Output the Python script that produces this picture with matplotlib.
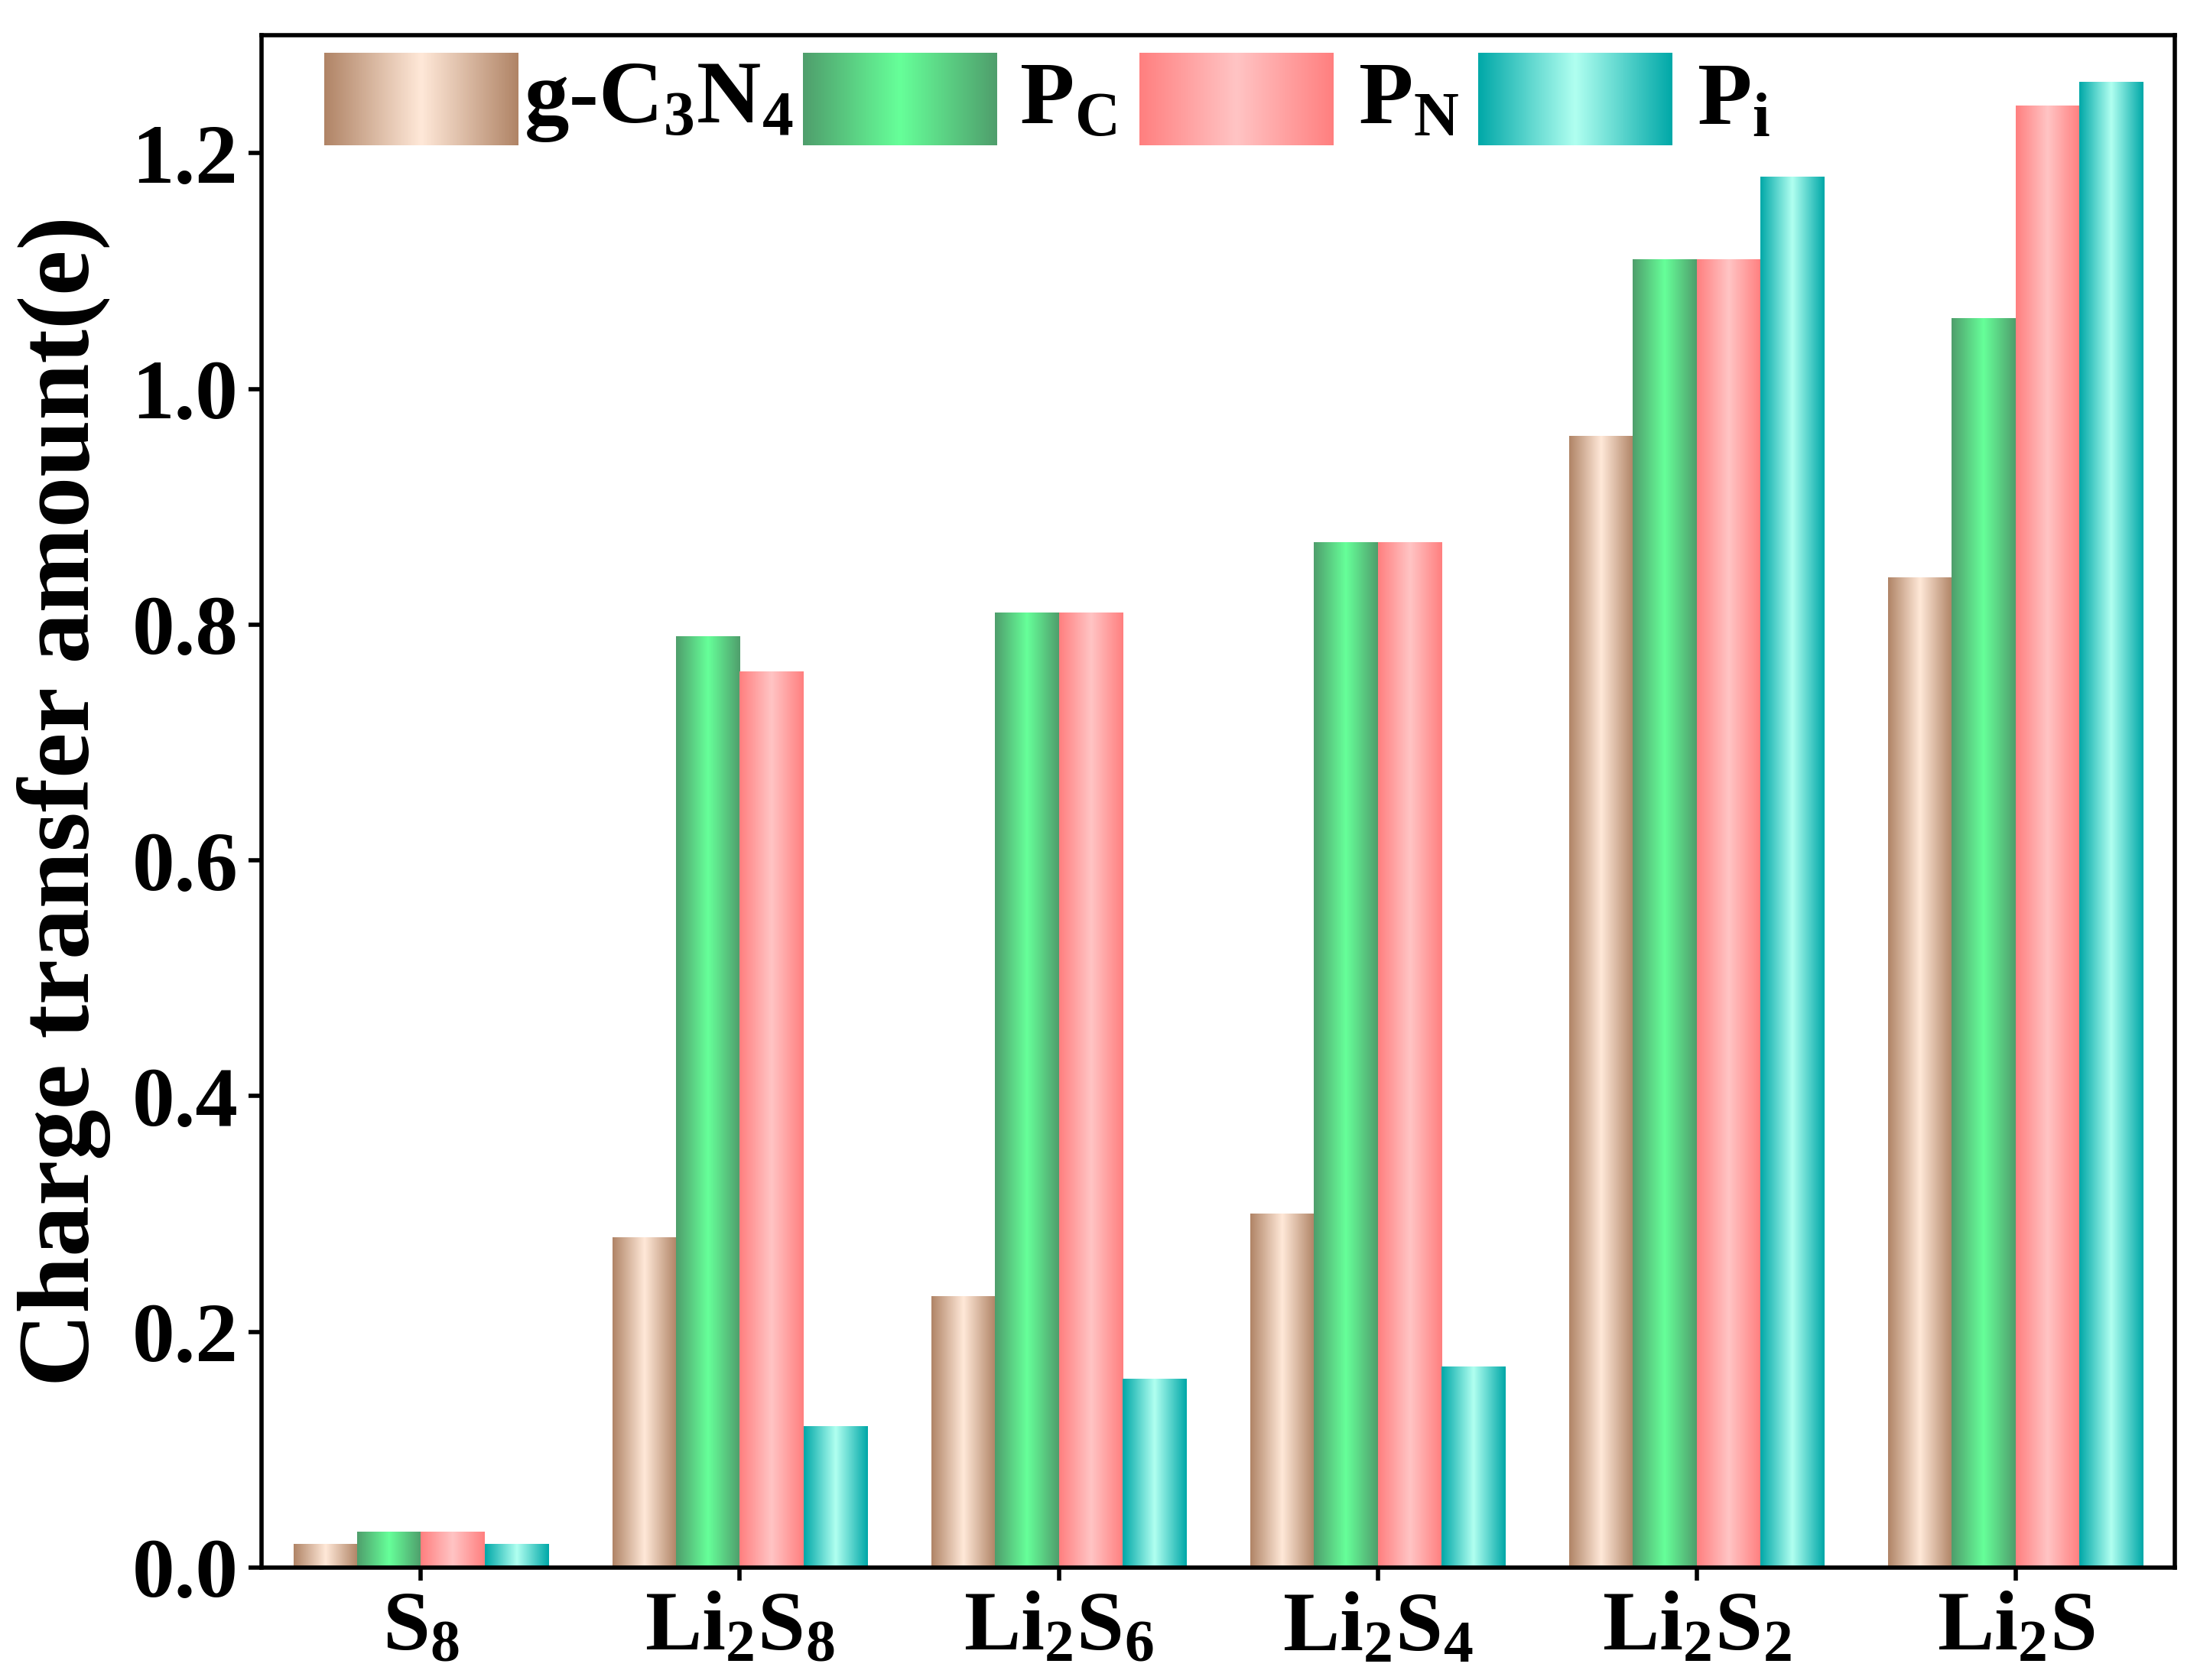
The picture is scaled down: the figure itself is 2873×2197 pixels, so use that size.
import numpy as np
import matplotlib
matplotlib.use("Agg")
import matplotlib.pyplot as plt
from matplotlib.colors import LinearSegmentedColormap

categories = ["S$_8$", "Li$_2$S$_8$", "Li$_2$S$_6$", "Li$_2$S$_4$", "Li$_2$S$_2$", "Li$_2$S"]
series = ["g-C$_3$N$_4$", "P$_\\mathregular{C}$", "P$_\\mathregular{N}$", "P$_\\mathregular{i}$"]
g_c3n4 = [0.02, 0.28, 0.23, 0.30, 0.96, 0.84]
p_c = [0.03, 0.79, 0.81, 0.87, 1.11, 1.06]
p_n = [0.03, 0.76, 0.81, 0.87, 1.11, 1.24]
p_i = [0.02, 0.12, 0.16, 0.17, 1.18, 1.26]
values = [g_c3n4, p_c, p_n, p_i]
grads = [("#b08466", "#ffe8d8"), ("#4f9e6c", "#66ff99"), ("#ff7f7f", "#ffc4c4"), ("#00a8a8", "#b0fff0")]

plt.rcParams['font.family'] = ['Liberation Serif', 'DejaVu Serif']
plt.rcParams['font.weight'] = 'bold'
plt.rcParams['mathtext.fontset'] = 'custom'
plt.rcParams['mathtext.rm'] = 'Liberation Serif:bold'
plt.rcParams['mathtext.it'] = 'Liberation Serif:bold'
plt.rcParams['mathtext.bf'] = 'Liberation Serif:bold'

fig = plt.figure(figsize=(28.73, 21.97), dpi=100)
ax = fig.add_axes([0.119, 0.067, 0.871, 0.912])
x = np.arange(len(categories))
w = 0.2
grad = np.abs(np.linspace(-1, 1, 256))[None, :]
for i, (vals, (dark, light)) in enumerate(zip(values, grads)):
    cmap = LinearSegmentedColormap.from_list("c%d" % i, [light, dark])
    for xi, v in zip(x, vals):
        left = xi - 0.4 + i * w
        ax.imshow(grad, cmap=cmap, extent=(left, left + w, 0, v), aspect='auto',
                  interpolation='bilinear', zorder=2)
    lx = [0.033, 0.283, 0.459, 0.636][i]
    ax.imshow(grad, cmap=cmap, extent=(lx, lx + 0.1015, 0.928, 0.988), aspect='auto',
              interpolation='bilinear', transform=ax.transAxes, zorder=3)
    tx = [0.137, 0.396, 0.573, 0.750][i]
    ax.text(tx, 0.956, series[i], transform=ax.transAxes, fontsize=84, fontweight='bold',
            va='center', ha='left')

ax.set_xlim(-0.5, 5.5)
ax.set_ylim(0, 1.3)
ax.set_xticks(x)
ax.set_xticklabels(categories)
ax.set_yticks(np.arange(0, 1.21, 0.2))
ax.set_yticklabels(["%.1f" % t for t in np.arange(0, 1.21, 0.2)])
ax.tick_params(labelsize=80, width=4, length=12, direction='out', pad=10)
for lab in ax.get_xticklabels() + ax.get_yticklabels():
    lab.set_fontweight('bold')
for s in ax.spines.values():
    s.set_linewidth(4)
ax.set_ylabel("Charge transfer amount(e)", fontsize=96, fontweight='bold', labelpad=20)
fig.savefig("out.png", dpi=100)
